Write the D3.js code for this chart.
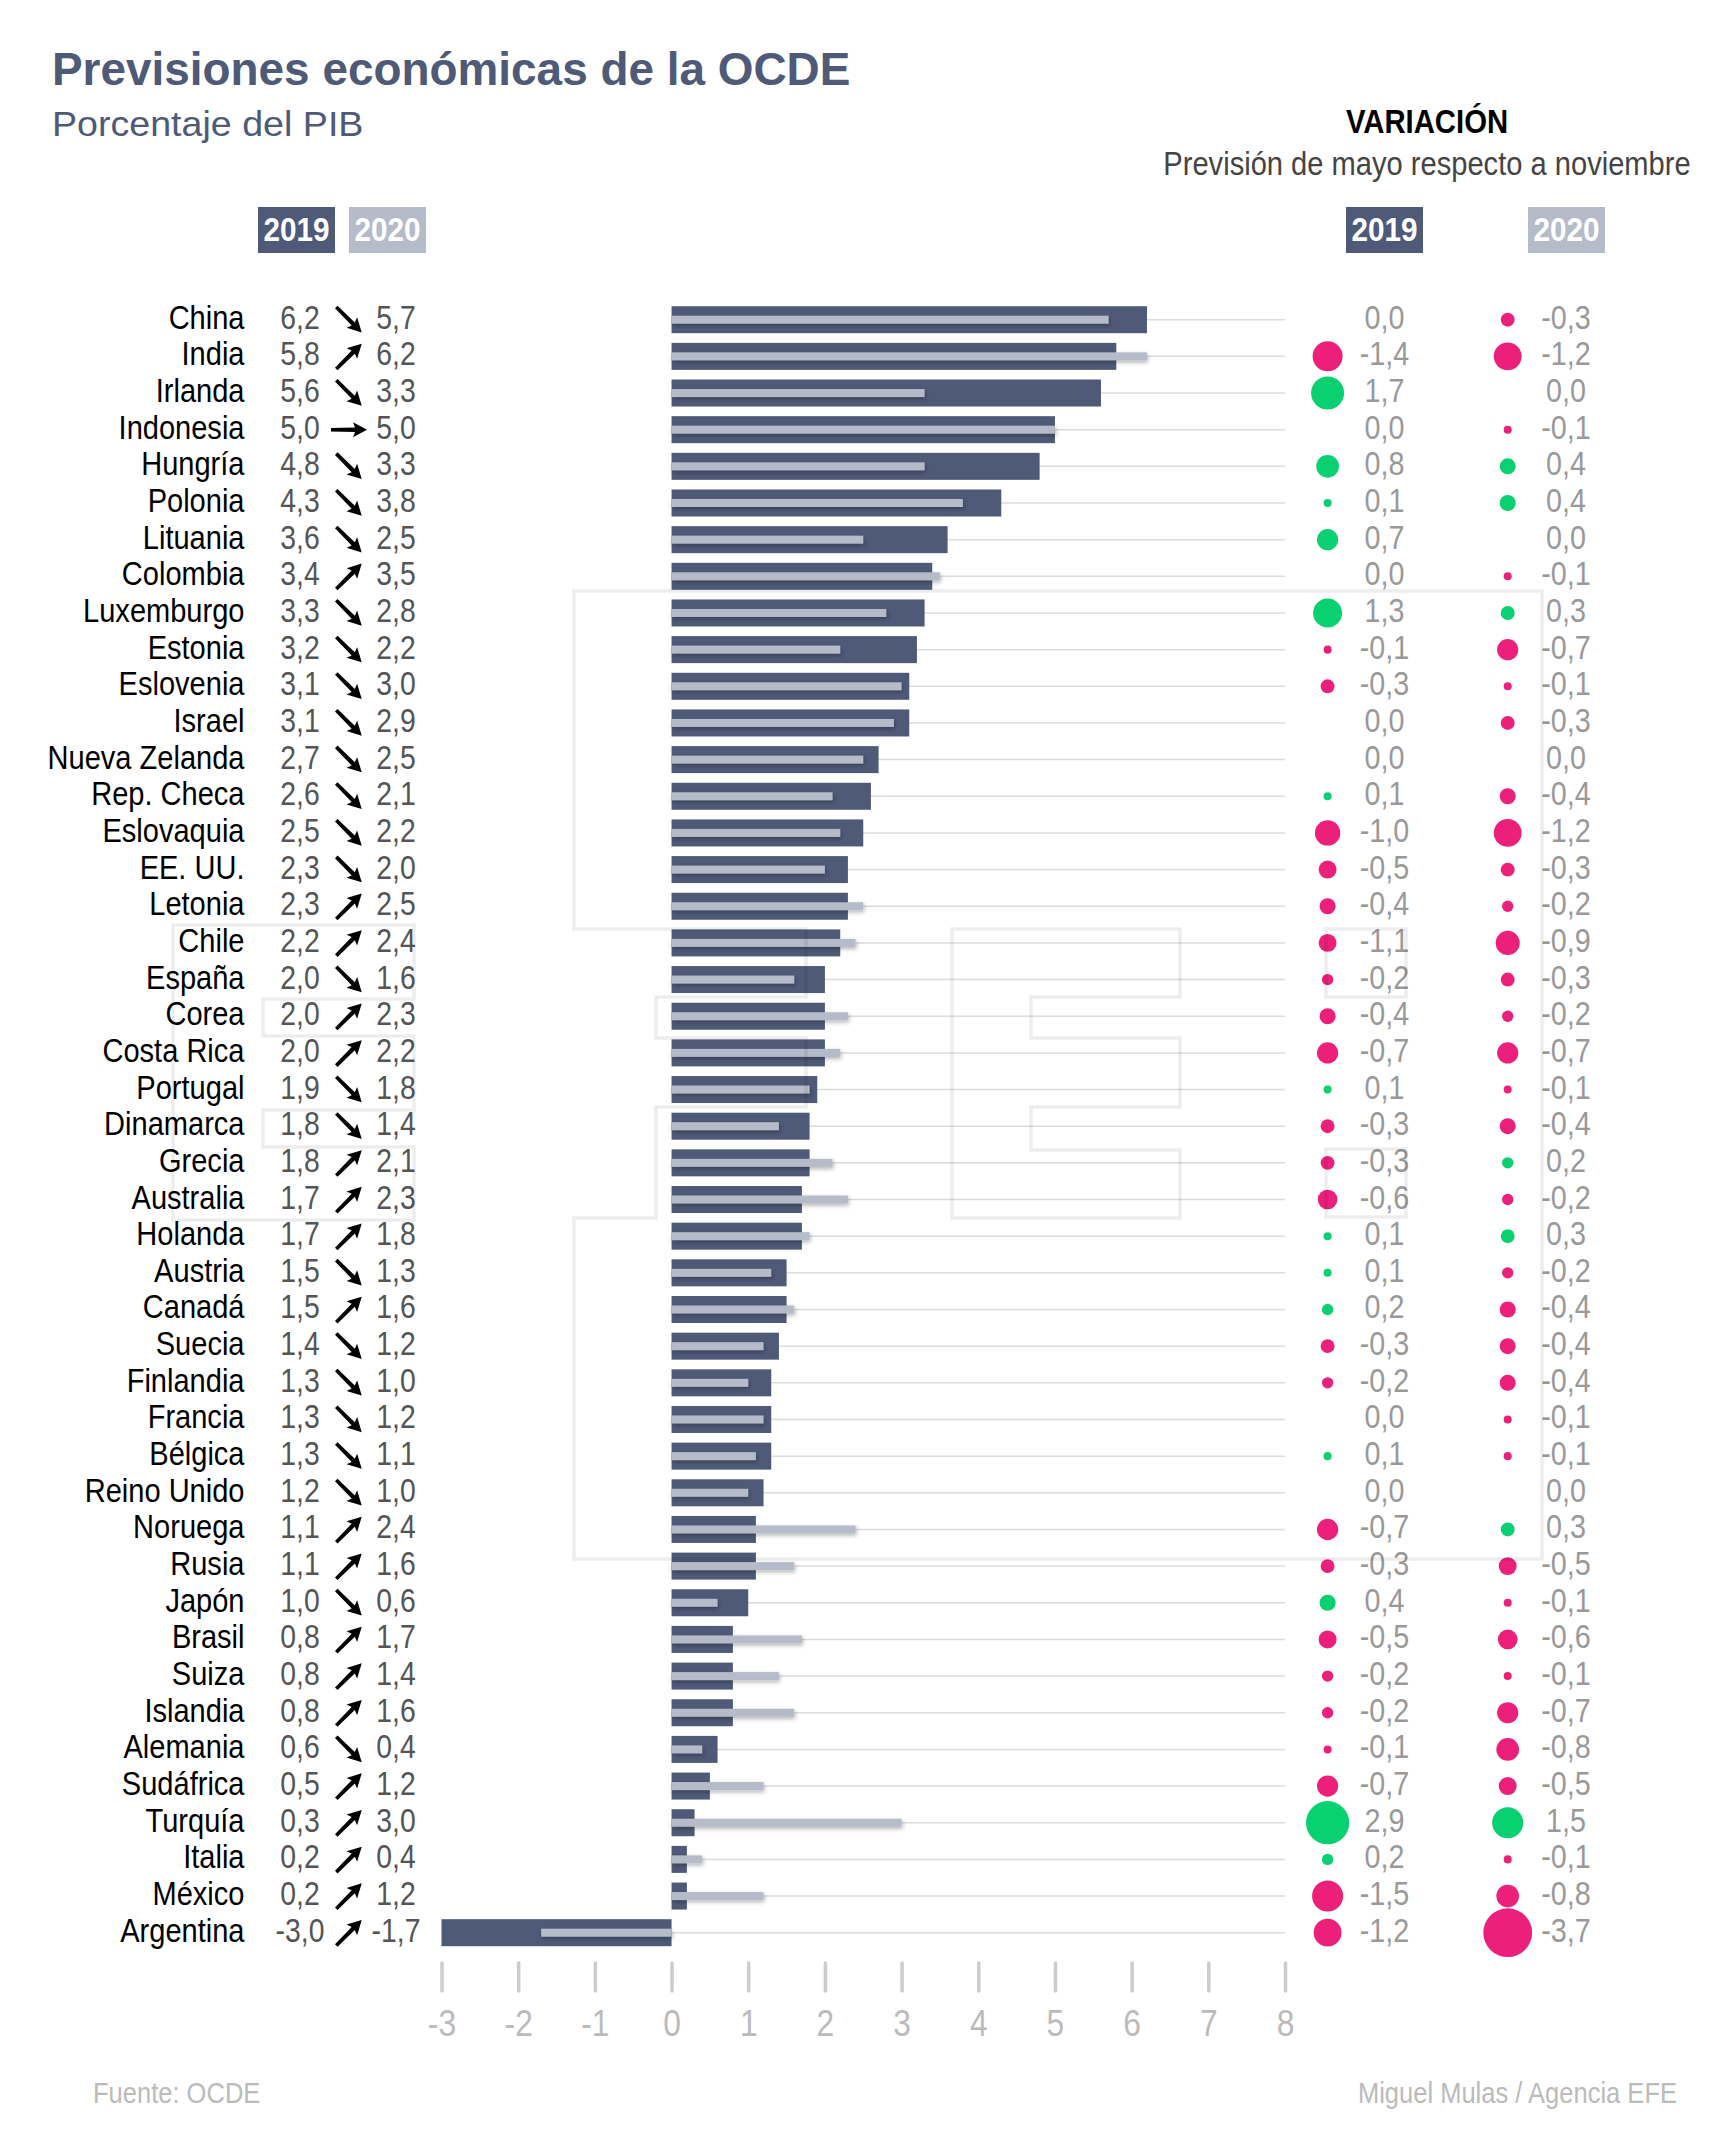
<!DOCTYPE html>
<html>
<head>
<meta charset="utf-8">
<script src="https://cdnjs.cloudflare.com/ajax/libs/d3/7.8.5/d3.min.js"></script>
<style>
  html, body { margin: 0; background: #fff; }
  text { font-family: "Liberation Sans", Arial, sans-serif; }
</style>
</head>
<body>
<svg id="chart" width="1725" height="2150"></svg>
<script>
// values, same order in every list
var countries = ["China", "India", "Irlanda", "Indonesia", "Hungría", "Polonia", "Lituania", "Colombia", "Luxemburgo",
  "Estonia", "Eslovenia", "Israel", "Nueva Zelanda", "Rep. Checa", "Eslovaquia", "EE. UU.", "Letonia", "Chile", "España",
  "Corea", "Costa Rica", "Portugal", "Dinamarca", "Grecia", "Australia", "Holanda", "Austria", "Canadá", "Suecia",
  "Finlandia", "Francia", "Bélgica", "Reino Unido", "Noruega", "Rusia", "Japón", "Brasil", "Suiza", "Islandia",
  "Alemania", "Sudáfrica", "Turquía", "Italia", "México", "Argentina"];

var gdp2019 = [6.2, 5.8, 5.6, 5.0, 4.8, 4.3, 3.6, 3.4, 3.3, 3.2, 3.1, 3.1, 2.7, 2.6, 2.5, 2.3, 2.3, 2.2, 2.0, 2.0, 2.0, 1.9, 1.8,
  1.8, 1.7, 1.7, 1.5, 1.5, 1.4, 1.3, 1.3, 1.3, 1.2, 1.1, 1.1, 1.0, 0.8, 0.8, 0.8, 0.6, 0.5, 0.3, 0.2, 0.2, -3.0];

var gdp2020 = [5.7, 6.2, 3.3, 5.0, 3.3, 3.8, 2.5, 3.5, 2.8, 2.2, 3.0, 2.9, 2.5, 2.1, 2.2, 2.0, 2.5, 2.4, 1.6, 2.3, 2.2, 1.8, 1.4,
  2.1, 2.3, 1.8, 1.3, 1.6, 1.2, 1.0, 1.2, 1.1, 1.0, 2.4, 1.6, 0.6, 1.7, 1.4, 1.6, 0.4, 1.2, 3.0, 0.4, 1.2, -1.7];

var var2019 = [0, -1.4, 1.7, 0, 0.8, 0.1, 0.7, 0, 1.3, -0.1, -0.3, 0, 0, 0.1, -1.0, -0.5, -0.4, -1.1, -0.2, -0.4, -0.7, 0.1, -0.3,
  -0.3, -0.6, 0.1, 0.1, 0.2, -0.3, -0.2, 0, 0.1, 0, -0.7, -0.3, 0.4, -0.5, -0.2, -0.2, -0.1, -0.7, 2.9, 0.2, -1.5, -1.2];

var var2020 = [-0.3, -1.2, 0, -0.1, 0.4, 0.4, 0, -0.1, 0.3, -0.7, -0.1, -0.3, 0, -0.4, -1.2, -0.3, -0.2, -0.9, -0.3, -0.2, -0.7, -0.1, -0.4,
  0.2, -0.2, 0.3, -0.2, -0.4, -0.4, -0.4, -0.1, -0.1, 0, 0.3, -0.5, -0.1, -0.6, -0.1, -0.7, -0.8, -0.5, 1.5, -0.1, -0.8, -3.7];

// the bubble for Chile 2019 in the picture is smaller than its -1,1 label
var bubbleFix2019 = {"Chile": 0.5};

var axisTicks = [-3, -2, -1, 0, 1, 2, 3, 4, 5, 6, 7, 8];

var dark = "#4e5a78", light = "#b5bbc9", pink = "#ec1f7a", green = "#09d172";

var svg = d3.select("#chart");

var x = d3.scaleLinear().domain([-3, 8]).range([441.5, 1285]);
var y = d3.scalePoint().domain(countries).range([319.7, 1932.7]);
var radius = d3.scaleSqrt().domain([0, 3.7]).range([0, 24.4]);

function fmt(v) { return v.toFixed(1).replace(".", ","); }

// no narrow font is installed, so squeeze the text around its own x
function condense(sel, k) {
  sel.attr("transform", function() {
    var px = +this.getAttribute("x") || 0;
    return "translate(" + px + ",0) scale(" + k + ",1) translate(" + (-px) + ",0)";
  });
}

var defs = svg.append("defs");
defs.append("filter").attr("id", "shadow")
    .attr("x", "-10%").attr("y", "-100%").attr("width", "120%").attr("height", "300%")
  .append("feDropShadow")
    .attr("dx", 1).attr("dy", 2).attr("stdDeviation", 2)
    .attr("flood-color", "#000").attr("flood-opacity", 0.3);

// titles
svg.append("text").attr("x", 52).attr("y", 85)
    .style("font-size", "45.9px").style("font-weight", "bold").style("fill", dark)
    .text("Previsiones económicas de la OCDE");
svg.append("text").attr("x", 52).attr("y", 136)
    .style("font-size", "36px").style("fill", dark)
    .text("Porcentaje del PIB").call(condense, 1.045);
svg.append("text").attr("x", 1427).attr("y", 133).attr("text-anchor", "middle")
    .style("font-size", "33px").style("font-weight", "bold").style("fill", "#000")
    .text("VARIACIÓN").call(condense, 0.888);
svg.append("text").attr("x", 1427).attr("y", 175).attr("text-anchor", "middle")
    .style("font-size", "33px").style("fill", "#444")
    .text("Previsión de mayo respecto a noviembre").call(condense, 0.882);

// year tags
function yearTag(left, width, color, label) {
  svg.append("rect").attr("x", left).attr("y", 207).attr("width", width).attr("height", 46).style("fill", color);
  svg.append("text").attr("x", left + width / 2).attr("y", 241).attr("text-anchor", "middle")
      .style("font-size", "33px").style("font-weight", "bold").style("fill", "#fff")
      .text(label).call(condense, 0.9);
}
yearTag(258, 77, dark, "2019");
yearTag(349, 77, light, "2020");
yearTag(1346, 77, dark, "2019");
yearTag(1528, 77, light, "2020");

// grid lines
svg.append("g").selectAll("line").data(countries).enter().append("line")
    .attr("x1", x(0)).attr("x2", x(8))
    .attr("y1", d => y(d)).attr("y2", d => y(d))
    .style("stroke", "#dcdcdc").style("stroke-width", 1.5);

// 2019 bars
svg.append("g").selectAll("rect").data(countries).enter().append("rect")
    .attr("x", (d, i) => x(Math.min(0, gdp2019[i])))
    .attr("width", (d, i) => Math.abs(x(gdp2019[i]) - x(0)))
    .attr("y", d => y(d) - 13.5)
    .attr("height", 27)
    .style("fill", dark);

// 2020 bars on top
svg.append("g").selectAll("rect").data(countries).enter().append("rect")
    .attr("x", (d, i) => x(Math.min(0, gdp2020[i])))
    .attr("width", (d, i) => Math.abs(x(gdp2020[i]) - x(0)))
    .attr("y", d => y(d) - 4)
    .attr("height", 8)
    .attr("filter", "url(#shadow)")
    .style("fill", light);

// country names and values on the left
var rowText = function(values, xPos, anchor, color, k) {
  svg.append("g").selectAll("text").data(values).enter().append("text")
      .attr("x", xPos)
      .attr("y", (d, i) => y(countries[i]) + 9)
      .attr("text-anchor", anchor)
      .style("font-size", "33px")
      .style("fill", color)
      .text(d => typeof d === "number" ? fmt(d) : d)
      .call(condense, k);
};
rowText(countries, 244.5, "end", "#000", 0.88);
rowText(gdp2019, 300, "middle", "#555", 0.86);
rowText(gdp2020, 396, "middle", "#555", 0.86);

// arrows, turned by the sign of the change
svg.append("g").selectAll("path").data(countries).enter().append("path")
    .attr("d", "M-18,-1.8L6,-2.2L4,-7.5L18,0L4,7.5L6,2.2L-18,1.8Z")
    .attr("transform", function(d, i) {
      var change = gdp2020[i] - gdp2019[i];
      var angle = Math.abs(change) < 0.05 ? 0 : (change > 0 ? -45 : 45);
      return "translate(349," + y(d) + ") rotate(" + angle + ")";
    })
    .style("fill", "#000");

// axis
var axis = svg.append("g")
    .attr("transform", "translate(0,1963)")
    .call(d3.axisBottom(x).tickValues(axisTicks).tickSize(28).tickPadding(19).tickFormat(d => String(d)));
axis.select(".domain").remove();
axis.selectAll("line").style("stroke", "#ccc").style("stroke-width", 3.5).style("stroke-linecap", "round");
axis.selectAll("text").style("font-size", "37px").style("fill", "#bbb")
    .style("font-family", "'Liberation Sans', Arial, sans-serif")
    .call(condense, 0.86);

// variation columns
function variation(values, bubbleX, labelX, fix) {
  svg.append("g").selectAll("circle").data(values).enter().append("circle")
      .attr("cx", bubbleX)
      .attr("cy", (d, i) => y(countries[i]))
      .attr("r", function(d, i) {
        var size = fix && fix[countries[i]] !== undefined ? fix[countries[i]] : Math.abs(d);
        return radius(size);
      })
      .style("fill", d => d < 0 ? pink : green);
  rowText(values, labelX, "middle", "#999", 0.87);
}
variation(var2019, 1327.6, 1384.5, bubbleFix2019);
variation(var2020, 1507.7, 1566, null);

// sources
svg.append("text").attr("x", 93).attr("y", 2103)
    .style("font-size", "29.5px").style("fill", "#bbb").text("Fuente: OCDE").call(condense, 0.865);
svg.append("text").attr("x", 1677).attr("y", 2103).attr("text-anchor", "end")
    .style("font-size", "29.5px").style("fill", "#bbb").text("Miguel Mulas / Agencia EFE").call(condense, 0.865);

// faint EFE logo over the chart
var logo = [
  "M574,591H1542V1559H574V1218H656V1107H806V1038H656V997H806V929H574Z",
  "M952,929H1180V997H1031V1038H1180V1107H1031V1150H1180V1218H952Z",
  "M173,925H414V999H263V1036H414V1110H263V1147H414V1220H173Z",
  "M1326,929H1406V997H1326Z",
  "M1326,1149H1406V1217H1326Z"
];
svg.append("g").selectAll("path").data(logo).enter().append("path")
    .attr("d", d => d)
    .style("fill", "none")
    .style("stroke", "#000")
    .style("stroke-opacity", 0.07)
    .style("stroke-width", 3.5);
</script>
</body>
</html>
